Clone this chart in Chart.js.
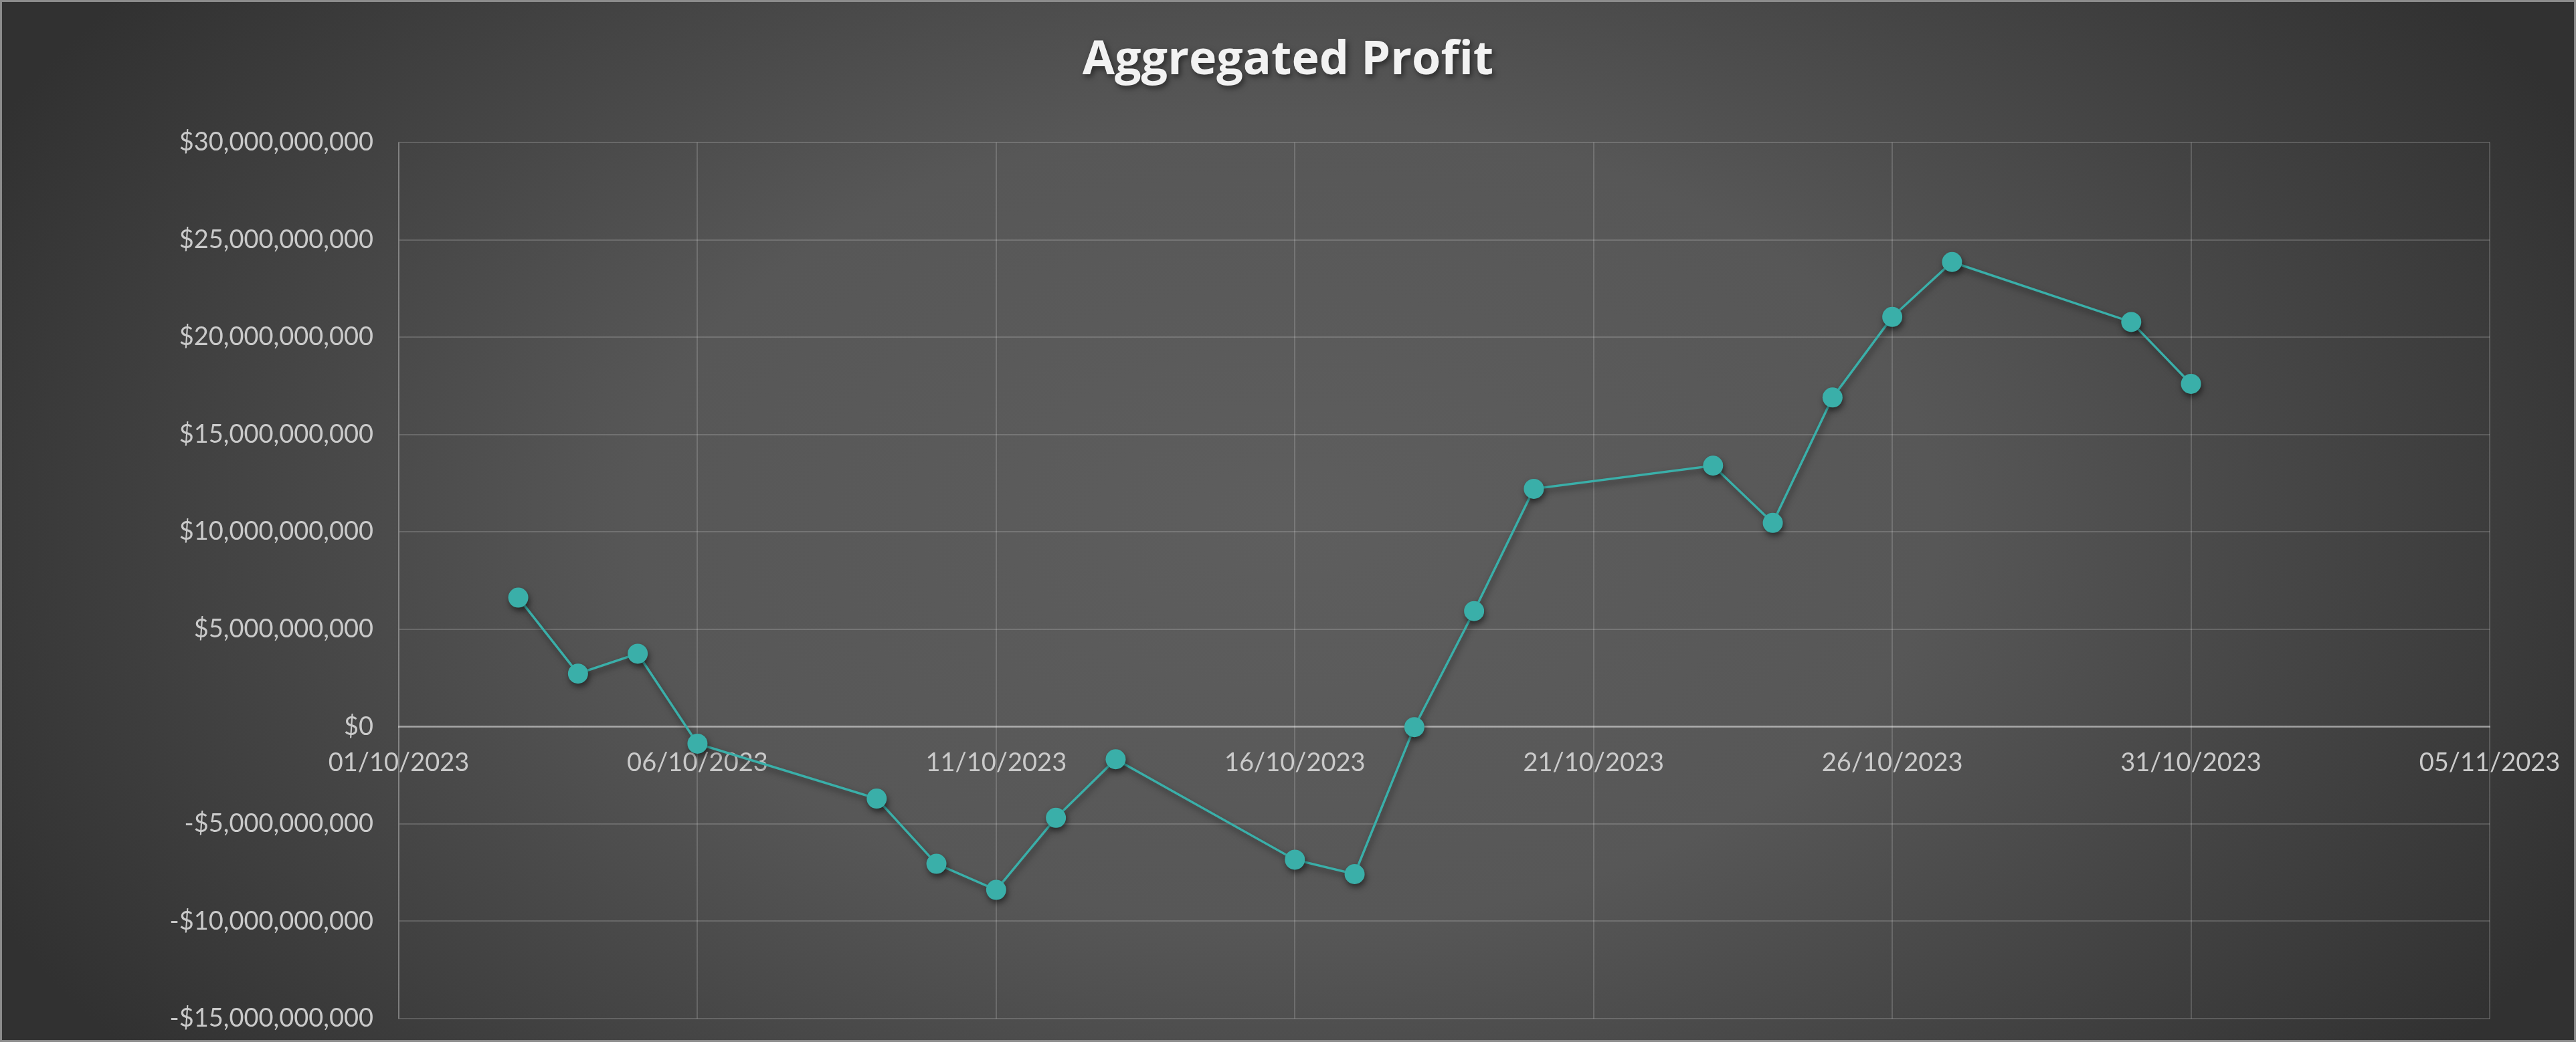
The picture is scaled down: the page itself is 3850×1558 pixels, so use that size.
<!DOCTYPE html>
<html>
<head>
<meta charset="utf-8">
<title>Aggregated Profit</title>
<script src="https://cdn.jsdelivr.net/npm/chart.js@4.4.1/dist/chart.umd.min.js"></script>
<style>
  html, body { margin: 0; padding: 0; background: #333; }
  canvas { display: block; }
</style>
</head>
<body>
<canvas id="profitChart" width="3850" height="1558"></canvas>
<script>
/* aggregatedProfit.js */

const dates = [
  '2023-10-03', '2023-10-04', '2023-10-05', '2023-10-06',
  '2023-10-09', '2023-10-10', '2023-10-11', '2023-10-12', '2023-10-13',
  '2023-10-16', '2023-10-17', '2023-10-18', '2023-10-19', '2023-10-20',
  '2023-10-23', '2023-10-24', '2023-10-25', '2023-10-26', '2023-10-27',
  '2023-10-30', '2023-10-31'
];
const profits = [
  6.62e9, 2.72e9, 3.74e9, -0.88e9,
  -3.70e9, -7.05e9, -8.39e9, -4.69e9, -1.68e9,
  -6.84e9, -7.58e9, -0.03e9, 5.93e9, 12.21e9,
  13.40e9, 10.46e9, 16.90e9, 21.04e9, 23.86e9,
  20.78e9, 17.60e9
];
const startDate = '2023-10-01';
const endDate = '2023-11-05';
const dayStep = 5;
const yMin = -15e9;
const yMax = 30e9;
const yStep = 5e9;

const DAY = 24 * 60 * 60 * 1000;

function dayOffset(s) {
  return Math.round((Date.parse(s) - Date.parse(startDate)) / DAY);
}

function formatDate(offset) {
  const d = new Date(Date.parse(startDate) + offset * DAY);
  const dd = String(d.getUTCDate()).padStart(2, '0');
  const mm = String(d.getUTCMonth() + 1).padStart(2, '0');
  return `${dd}/${mm}/${d.getUTCFullYear()}`;
}

function formatMoney(value) {
  const s = Math.abs(value).toLocaleString('en-US', { maximumFractionDigits: 0 });
  return (value < 0 ? '-$' : '$') + s;
}

function withShadow(ctx, blur, dx, dy) {
  ctx.shadowColor = 'rgba(0, 0, 0, 0.5)';
  ctx.shadowBlur = blur;
  ctx.shadowOffsetX = dx;
  ctx.shadowOffsetY = dy;
}

// background, border and shadows (title + markers)
const backgroundPlugin = {
  id: 'excelBackground',
  beforeDraw(chart) {
    const ctx = chart.ctx;
    const w = chart.width;
    const h = chart.height;
    ctx.save();
    ctx.translate(w / 2, h / 2);
    ctx.scale(1, 0.62);
    const g = ctx.createRadialGradient(0, 0, 0, 0, 0, w * 0.56);
    g.addColorStop(0, '#5e5e5e');
    g.addColorStop(0.45, '#575757');
    g.addColorStop(1, '#313131');
    ctx.fillStyle = g;
    ctx.fillRect(-w, -h * 2, w * 2, h * 4);
    ctx.restore();
    ctx.save();
    ctx.strokeStyle = '#8c8c8c';
    ctx.lineWidth = 3;
    ctx.strokeRect(1.5, 1.5, w - 3, h - 3);
    ctx.restore();

    const title = chart.titleBlock;
    if (title && !title._shadowed) {
      const drawTitle = title.draw.bind(title);
      title.draw = function(area) {
        ctx.save();
        withShadow(ctx, 8, 3, 4);
        drawTitle(area);
        ctx.restore();
      };
      title._shadowed = true;
    }
  },
  beforeDatasetsDraw(chart) {
    chart.ctx.save();
    withShadow(chart.ctx, 10, 2, 5);
  },
  afterDatasetsDraw(chart) {
    chart.ctx.restore();
  }
};

class ProfitChart {
  constructor(id) {
    this.id = id;
    this.createChart();
  }

  createData() {
    const points = dates.map((d, i) => ({ x: dayOffset(d), y: profits[i] }));
    return {
      datasets: [{
        label: 'Aggregated Profit',
        data: points,
        showLine: true,
        borderColor: '#3aafa9',
        backgroundColor: '#3aafa9',
        borderWidth: 3.5,
        pointRadius: 15,
        pointBorderWidth: 0,
        pointHoverRadius: 15,
        fill: false,
      }]
    };
  }

  createConfig(inputData) {
    const tickFont = { family: 'Lato', size: 38 };
    return {
      type: 'scatter',
      data: inputData,
      options: {
        responsive: false,
        animation: false,
        layout: {
          padding: { left: 129, right: 129, top: 0, bottom: 35 }
        },
        scales: {
          x: {
            type: 'linear',
            position: { y: 0 },
            min: 0,
            max: dayOffset(endDate),
            afterFit: (scale) => {
              scale.height = 0;
              scale.paddingLeft = 0;
              scale.paddingRight = 0;
            },
            ticks: {
              stepSize: dayStep,
              color: '#cacaca',
              font: tickFont,
              padding: 32,
              maxRotation: 0,
              callback: (value) => formatDate(value)
            },
            grid: {
              color: 'rgba(255, 255, 255, 0.17)',
              lineWidth: 2,
              drawTicks: false
            },
            border: {
              color: 'rgba(255, 255, 255, 0.38)',
              width: 3
            }
          },
          y: {
            min: yMin,
            max: yMax,
            afterFit: (scale) => {
              scale.width = 467;
              scale.paddingTop = 0;
              scale.paddingBottom = 0;
            },
            ticks: {
              stepSize: yStep,
              color: '#cacaca',
              font: tickFont,
              padding: 38,
              callback: (value) => formatMoney(value)
            },
            grid: {
              color: 'rgba(255, 255, 255, 0.17)',
              lineWidth: 2,
              drawTicks: false
            },
            border: {
              color: 'rgba(255, 255, 255, 0.2)',
              width: 2
            }
          }
        },
        plugins: {
          legend: { display: false },
          tooltip: { enabled: false },
          title: {
            display: true,
            text: 'Aggregated Profit',
            color: '#f2f2f2',
            font: { family: 'Open Sans', size: 70, weight: 'bold' },
            padding: { top: 49, bottom: 80 }
          }
        }
      },
      plugins: [backgroundPlugin]
    };
  }

  createChart() {
    const data = this.createData();
    const config = this.createConfig(data);
    const ctx = document.getElementById(this.id).getContext('2d');
    new Chart(ctx, config);
  }
}

const chart1 = new ProfitChart('profitChart');
</script>
</body>
</html>
